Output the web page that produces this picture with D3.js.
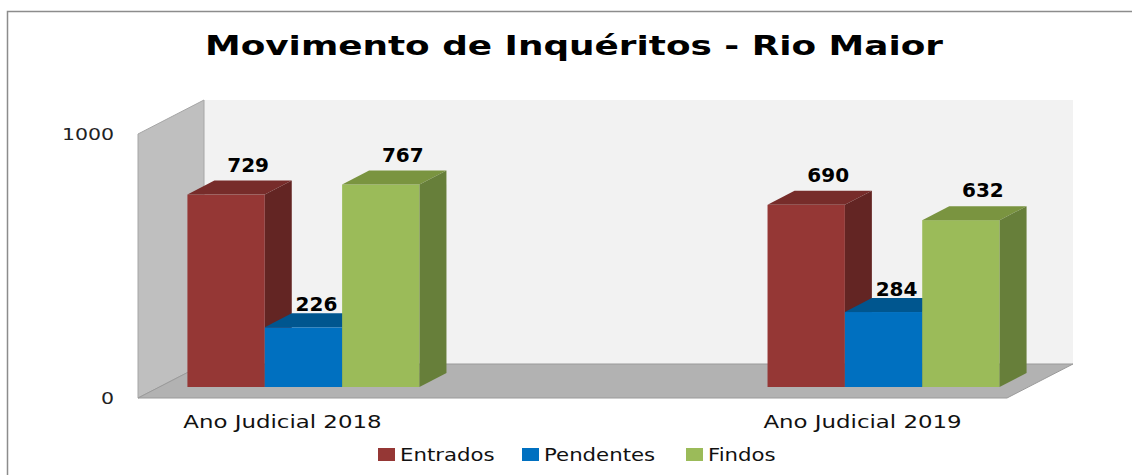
<!DOCTYPE html>
<html>
<head>
<meta charset="utf-8">
<script src="https://cdn.jsdelivr.net/npm/d3@7"></script>
<style>
  body { margin: 0; background: #fff; }
</style>
</head>
<body>
<div id="chart"></div>
<script>
// data
var categories = ["Ano Judicial 2018", "Ano Judicial 2019"];
var seriesNames = ["Entrados", "Pendentes", "Findos"];
var entrados = [729, 690];
var pendentes = [226, 284];
var findos = [767, 632];
var yTicks = [0, 1000];
var titleText = "Movimento de Inquéritos - Rio Maior";

var seriesValues = [entrados, pendentes, findos];

// styles
var frontColors = ["#953735", "#0070c0", "#9bbb59"];
var topColors = ["#772c2a", "#00568f", "#7a9440"];
var sideColors = ["#632523", "#00467a", "#677f3a"];
var labelDx = [22, 13, 22];
var labelDy = [-9, -2, -9];
var legendX = [378, 522, 686];

var W = 1132, H = 475;
var depth = {x: 66, y: -34};      // full floor depth
var barOff = {x: 21, y: -11};     // bar front face offset from front plane
var barDepth = {x: 27, y: -14};   // depth of a bar

var svg = d3.select("#chart").append("svg")
    .attr("width", W)
    .attr("height", H);

// outer border
svg.append("path")
    .attr("d", "M7.5," + H + "V11.5H" + W)
    .attr("fill", "none")
    .attr("stroke", "#8c8c8c")
    .attr("stroke-width", 1.5);

// scales
var x = d3.scaleBand()
    .domain(categories)
    .range([138, 1007])
    .paddingInner(0.6)
    .paddingOuter(0.049);

var xs = d3.scaleBand()
    .domain(seriesNames)
    .range([0, x.bandwidth()]);

var y = d3.scaleLinear()
    .domain([0, 1000])
    .range([398, 134]);

var x0 = x.range()[0], x1 = x.range()[1];
var yb = y(0), yt = y(1000);

function pts(a) { return a.map(function(p) { return p.join(","); }).join(" "); }

// walls and floor
svg.append("rect")
    .attr("x", x0 + depth.x)
    .attr("y", yt + depth.y)
    .attr("width", x1 - x0)
    .attr("height", yb - yt)
    .attr("fill", "#f2f2f2");

svg.append("polygon")
    .attr("points", pts([[x0, yt], [x0 + depth.x, yt + depth.y], [x0 + depth.x, yb + depth.y], [x0, yb]]))
    .attr("fill", "#bfbfbf")
    .attr("stroke", "#a6a6a6")
    .attr("stroke-width", 1);

svg.append("polygon")
    .attr("points", pts([[x0, yb], [x1, yb], [x1 + depth.x, yb + depth.y], [x0 + depth.x, yb + depth.y]]))
    .attr("fill", "#b2b2b2")
    .attr("stroke", "#9a9a9a")
    .attr("stroke-width", 1);

// bars
var bars = [];
categories.forEach(function(c, ci) {
    seriesNames.forEach(function(s, si) {
        bars.push({cat: c, series: s, si: si, value: seriesValues[si][ci]});
    });
});

var g = svg.append("g").attr("class", "bars");

bars.forEach(function(d) {
    var bx = x(d.cat) + xs(d.series) + barOff.x;
    var bw = xs.bandwidth();
    var top = y(d.value) + barOff.y;
    var base = yb + barOff.y;
    var bar = g.append("g");

    bar.append("rect")
        .attr("x", bx)
        .attr("y", top)
        .attr("width", bw)
        .attr("height", base - top)
        .attr("fill", frontColors[d.si]);

    bar.append("polygon")
        .attr("points", pts([[bx, top], [bx + bw, top], [bx + bw + barDepth.x, top + barDepth.y], [bx + barDepth.x, top + barDepth.y]]))
        .attr("fill", topColors[d.si]);

    bar.append("polygon")
        .attr("points", pts([[bx + bw, top], [bx + bw + barDepth.x, top + barDepth.y], [bx + bw + barDepth.x, base + barDepth.y], [bx + bw, base]]))
        .attr("fill", sideColors[d.si]);
});

// value labels
svg.append("g").selectAll("text")
    .data(bars)
    .join("text")
    .attr("x", function(d) { return x(d.cat) + xs(d.series) + barOff.x + xs.bandwidth() / 2 + labelDx[d.si]; })
    .attr("y", function(d) { return y(d.value) + barOff.y + barDepth.y + labelDy[d.si]; })
    .attr("text-anchor", "middle")
    .style("font-family", "DejaVu Sans")
    .style("font-weight", "bold")
    .style("font-size", "20px")
    .attr("fill", "#000")
    .text(function(d) { return d.value; });

// stretch text horizontally to match the wide lettering
function stretch(sel, k) {
    sel.each(function() {
        var len = this.getComputedTextLength();
        d3.select(this)
            .attr("textLength", len * k)
            .attr("lengthAdjust", "spacingAndGlyphs");
    });
}

// y tick labels
svg.append("g").selectAll("text")
    .data(yTicks)
    .join("text")
    .attr("x", 114)
    .attr("y", function(d) { return y(d) + 6; })
    .attr("text-anchor", "end")
    .style("font-family", "DejaVu Sans")
    .style("font-size", "16.5px")
    .attr("fill", "#222")
    .text(function(d) { return d; })
    .call(stretch, 1.24);

// category labels
svg.append("g").selectAll("text")
    .data(categories)
    .join("text")
    .attr("x", function(d) { return x(d) + x.bandwidth() / 2; })
    .attr("y", 428)
    .attr("text-anchor", "middle")
    .style("font-family", "DejaVu Sans")
    .style("font-size", "18px")
    .attr("fill", "#111")
    .text(function(d) { return d; })
    .call(stretch, 1.27);

// title
svg.append("text")
    .attr("x", 574)
    .attr("y", 55)
    .attr("text-anchor", "middle")
    .style("font-family", "DejaVu Sans")
    .style("font-weight", "bold")
    .style("font-size", "27px")
    .attr("fill", "#000")
    .attr("textLength", 738)
    .attr("lengthAdjust", "spacingAndGlyphs")
    .text(titleText);

// legend
var legend = svg.append("g").selectAll("g")
    .data(seriesNames)
    .join("g")
    .attr("transform", function(d, i) { return "translate(" + legendX[i] + ",448)"; });

legend.append("rect")
    .attr("width", 17)
    .attr("height", 13)
    .attr("fill", function(d, i) { return frontColors[i]; });

legend.append("text")
    .attr("x", 22)
    .attr("y", 13)
    .style("font-family", "DejaVu Sans")
    .style("font-size", "17px")
    .attr("fill", "#111")
    .text(function(d) { return d; })
    .call(stretch, 1.25);
</script>
</body>
</html>
